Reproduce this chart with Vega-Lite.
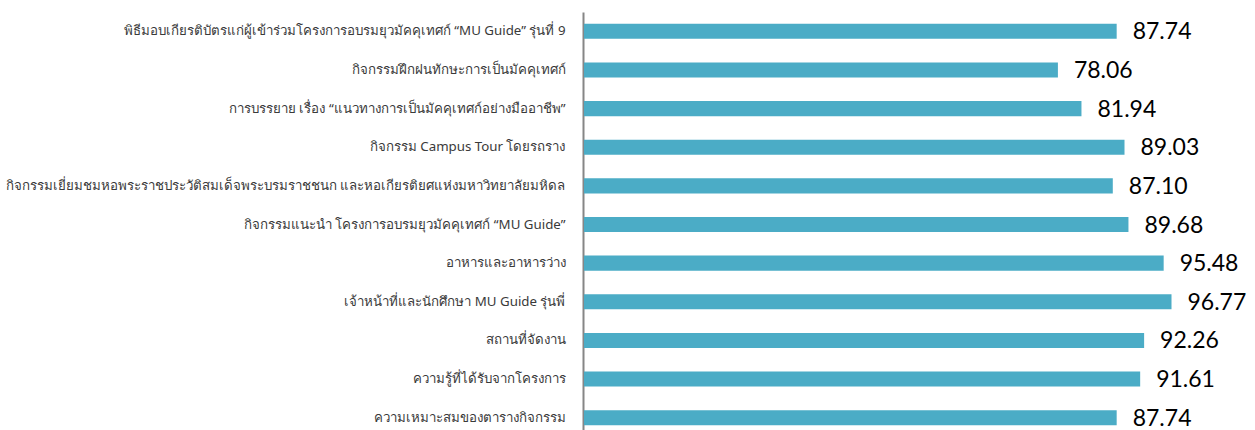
{
  "$schema": "https://vega.github.io/schema/vega-lite/v6.json",
  "autosize": {"type": "none"},
  "padding": {"left": 584, "top": 12, "right": 5, "bottom": 0},
  "width": 666,
  "height": 425,
  "background": "white",
  "config": {"view": {"stroke": null}},
  "data": {"values": [
    {"item": "พิธีมอบเกียรติบัตรแก่ผู้เข้าร่วมโครงการอบรมยุวมัคคุเทศก์ “MU Guide” รุ่นที่ 9", "score": 87.74, "order": 1},
    {"item": "กิจกรรมฝึกฝนทักษะการเป็นมัคคุเทศก์", "score": 78.06, "order": 2},
    {"item": "การบรรยาย เรื่อง “แนวทางการเป็นมัคคุเทศก์อย่างมืออาชีพ”", "score": 81.94, "order": 3},
    {"item": "กิจกรรม Campus Tour โดยรถราง", "score": 89.03, "order": 4},
    {"item": "กิจกรรมเยี่ยมชมหอพระราชประวัติสมเด็จพระบรมราชชนก และหอเกียรติยศแห่งมหาวิทยาลัยมหิดล", "score": 87.10, "order": 5},
    {"item": "กิจกรรมแนะนำ โครงการอบรมยุวมัคคุเทศก์ “MU Guide”", "score": 89.68, "order": 6},
    {"item": "อาหารและอาหารว่าง", "score": 95.48, "order": 7},
    {"item": "เจ้าหน้าที่และนักศึกษา MU Guide รุ่นพี่", "score": 96.77, "order": 8},
    {"item": "สถานที่จัดงาน", "score": 92.26, "order": 9},
    {"item": "ความรู้ที่ได้รับจากโครงการ", "score": 91.61, "order": 10},
    {"item": "ความเหมาะสมของตารางกิจกรรม", "score": 87.74, "order": 11}
  ]},
  "encoding": {
    "y": {
      "field": "item", "type": "nominal",
      "sort": {"field": "order", "order": "ascending"},
      "scale": {"paddingInner": 0.61, "paddingOuter": 0.305},
      "axis": {
        "title": null, "ticks": false, "offset": 1,
        "domainColor": "#868686", "domainWidth": 2,
        "labelFont": "Noto Sans", "labelFontSize": 13.3, "labelColor": "#3a3a3a",
        "labelPadding": 18, "labelLimit": 600
      }
    },
    "x": {
      "field": "score", "type": "quantitative",
      "scale": {"domain": [0, 109.7], "nice": false},
      "axis": null
    }
  },
  "layer": [
    {"mark": {"type": "bar", "color": "#4BACC6"}},
    {
      "mark": {"type": "text", "align": "left", "baseline": "middle", "dx": 16, "dy": 1, "font": "Lato", "fontSize": 23, "color": "#000000"},
      "encoding": {"text": {"field": "score", "type": "quantitative", "format": ".2f"}}
    }
  ]
}
